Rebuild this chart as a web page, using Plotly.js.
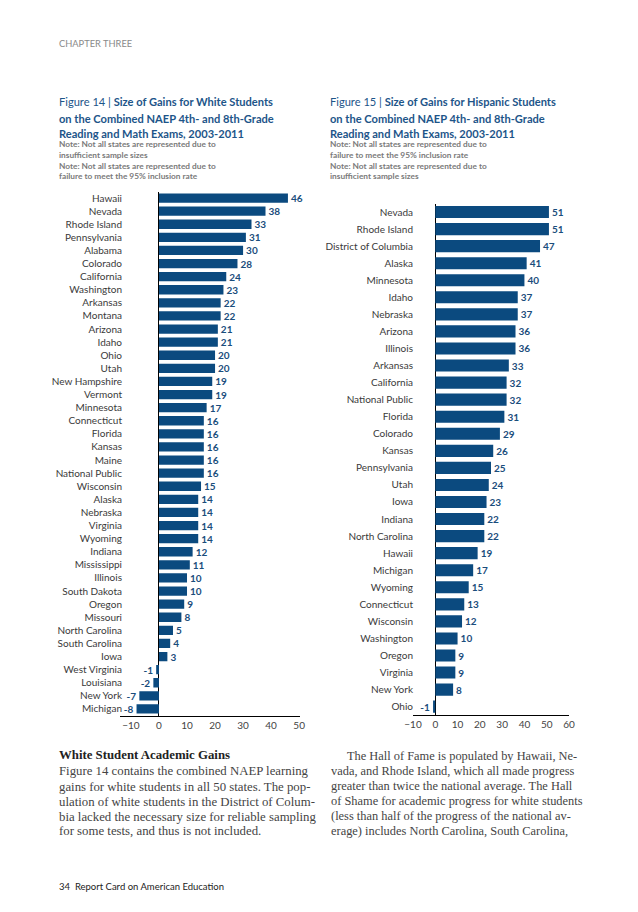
<!DOCTYPE html>
<html><head><meta charset="utf-8">
<script src="https://cdn.plot.ly/plotly-3.0.1.min.js"></script>
<style>body{margin:0;padding:0;background:#fff}#chart{width:638px;height:912px}</style>
</head><body><div id="chart"></div>
<script>
var whiteStates = ["Hawaii","Nevada","Rhode Island","Pennsylvania","Alabama","Colorado","California","Washington","Arkansas","Montana","Arizona","Idaho","Ohio","Utah","New Hampshire","Vermont","Minnesota","Connecticut","Florida","Kansas","Maine","National Public","Wisconsin","Alaska","Nebraska","Virginia","Wyoming","Indiana","Mississippi","Illinois","South Dakota","Oregon","Missouri","North Carolina","South Carolina","Iowa","West Virginia","Louisiana","New York","Michigan"];
var whiteGains = [46,38,33,31,30,28,24,23,22,22,21,21,20,20,19,19,17,16,16,16,16,16,15,14,14,14,14,12,11,10,10,9,8,5,4,3,-1,-2,-7,-8];
var hispStates = ["Nevada","Rhode Island","District of Columbia","Alaska","Minnesota","Idaho","Nebraska","Arizona","Illinois","Arkansas","California","National Public","Florida","Colorado","Kansas","Pennsylvania","Utah","Iowa","Indiana","North Carolina","Hawaii","Michigan","Wyoming","Connecticut","Wisconsin","Washington","Oregon","Virginia","New York","Ohio"];
var hispGains = [51,51,47,41,40,37,37,36,36,33,32,32,31,29,26,25,24,23,22,22,19,17,15,13,12,10,9,9,8,-1];
var xTicks = [-10,0,10,20,30,40,50,60];

var W = 638, H = 912;
function px(x){return x/W;}
function py(y){return 1 - y/H;}
var BAR = '#0b4a7f', LBL = '#1a4d7c', BLUE = '#1d5589', GRAY = '#7a7a7a';
var SANS = 'Lato, "Noto Sans", sans-serif', SERIF = '"Liberation Serif", "DejaVu Serif", serif';

var traces = [
 {type:'bar', orientation:'h', x:whiteGains, y:whiteStates, xaxis:'x', yaxis:'y',
  marker:{color:BAR}, text:whiteGains.map(String), textposition:'outside', constraintext:'none',
  cliponaxis:false, textfont:{family:SANS, size:10, color:LBL, weight:'bold'}, hoverinfo:'x+y'},
 {type:'bar', orientation:'h', x:hispGains, y:hispStates, xaxis:'x2', yaxis:'y2',
  marker:{color:BAR}, text:hispGains.map(String), textposition:'outside', constraintext:'none',
  cliponaxis:false, textfont:{family:SANS, size:10, color:LBL, weight:'bold'}, hoverinfo:'x+y'}
];

var axX = {showgrid:false, zeroline:true, zerolinecolor:'#000', zerolinewidth:1, showline:true, linecolor:'#000', linewidth:1,
  ticks:'', tickmode:'array', tickfont:{family:SANS, size:10, color:'#444'}, fixedrange:true};
var axY = {type:'category', autorange:'reversed', showgrid:false, zeroline:false, showline:false, ticks:'',
  ticklabelstandoff:-3, tickfont:{family:SANS, size:10, color:'#3a3a3a'}, fixedrange:true};

var layout = {
  width:W, height:H, margin:{l:0,r:0,t:0,b:0}, paper_bgcolor:'#fff', plot_bgcolor:'rgba(0,0,0,0)',
  showlegend:false, bargap:0.29,
  xaxis: Object.assign({}, axX, {domain:[px(120),px(300)], range:[-13.9,50.3], anchor:'y', tickvals:xTicks.slice(0,7)}),
  yaxis: Object.assign({}, axY, {domain:[py(715.5),py(191.5)], anchor:'x'}),
  xaxis2: Object.assign({}, axX, {domain:[px(413),px(569)], range:[-10,60], anchor:'y2', tickvals:xTicks}),
  yaxis2: Object.assign({}, axY, {domain:[py(715.2),py(203.5)], anchor:'x2', ticklabelstandoff:-1}),
  annotations:[]
};

function ann(x,y,text,font){
  layout.annotations.push({xref:'paper', yref:'paper', x:px(x), y:py(y), xanchor:'left', yanchor:'middle',
    text:text, showarrow:false, align:'left', font:font});
}
ann(57,43,'CHAPTER THREE',{family:SANS,size:9.3,color:'#8a8a8a'});

var tf = {family:SANS,size:11.1,color:BLUE};
ann(57,102,'Figure 14 | <b>Size of Gains for White Students</b>',tf);
ann(57,119,'<b>on the Combined NAEP 4th- and 8th-Grade</b>',tf);
ann(57,134,'<b>Reading and Math Exams, 2003-2011</b>',tf);
var nf = {family:SANS,size:8.3,color:GRAY};
ann(57,144,'<b>Note: Not all states are represented due to</b>',nf);
ann(57,155,'<b>insufficient sample sizes</b>',nf);
ann(57,166,'<b>Note: Not all states are represented due to</b>',nf);
ann(57,176,'<b>failure to meet the 95% inclusion rate</b>',nf);

ann(328,102,'Figure 15 | <b>Size of Gains for Hispanic Students</b>',tf);
ann(328,119,'<b>on the Combined NAEP 4th- and 8th-Grade</b>',tf);
ann(328,134,'<b>Reading and Math Exams, 2003-2011</b>',tf);
ann(328,144,'<b>Note: Not all states are represented due to</b>',nf);
ann(328,155,'<b>failure to meet the 95% inclusion rate</b>',nf);
ann(328,166,'<b>Note: Not all states are represented due to</b>',nf);
ann(328,176,'<b>insufficient sample sizes</b>',nf);

var bf = {family:SERIF,size:12.8,color:'#444'};
ann(57,755,'<b>White Student Academic Gains</b>',{family:SERIF,size:12.8,color:'#222'});
var leftLines = ['Figure 14 contains the combined NAEP learning','gains for white students in all 50 states. The pop-','ulation of white students in the District of Colum-','bia lacked the necessary size for reliable sampling','for some tests, and thus is not included.'];
var ly = [771,787,802,817,831];
leftLines.forEach(function(t,i){ann(57,ly[i],t,bf);});
var rightLines = ['The Hall of Fame is populated by Hawaii, Ne-','vada, and Rhode Island, which all made progress','greater than twice the national average. The Hall','of Shame for academic progress for white students','(less than half of the progress of the national av-','erage) includes North Carolina, South Carolina,'];
var ry = [756,771,786,801,816,831];
rightLines.forEach(function(t,i){ann(i===0?345:329,ry[i],t,{family:SERIF,size:12.4,color:'#444'});});
ann(57,886,'34  Report Card on American Education',{family:SANS,size:9.5,color:'#222'});

Plotly.newPlot('chart', traces, layout, {displayModeBar:false, staticPlot:true});
</script></body></html>
